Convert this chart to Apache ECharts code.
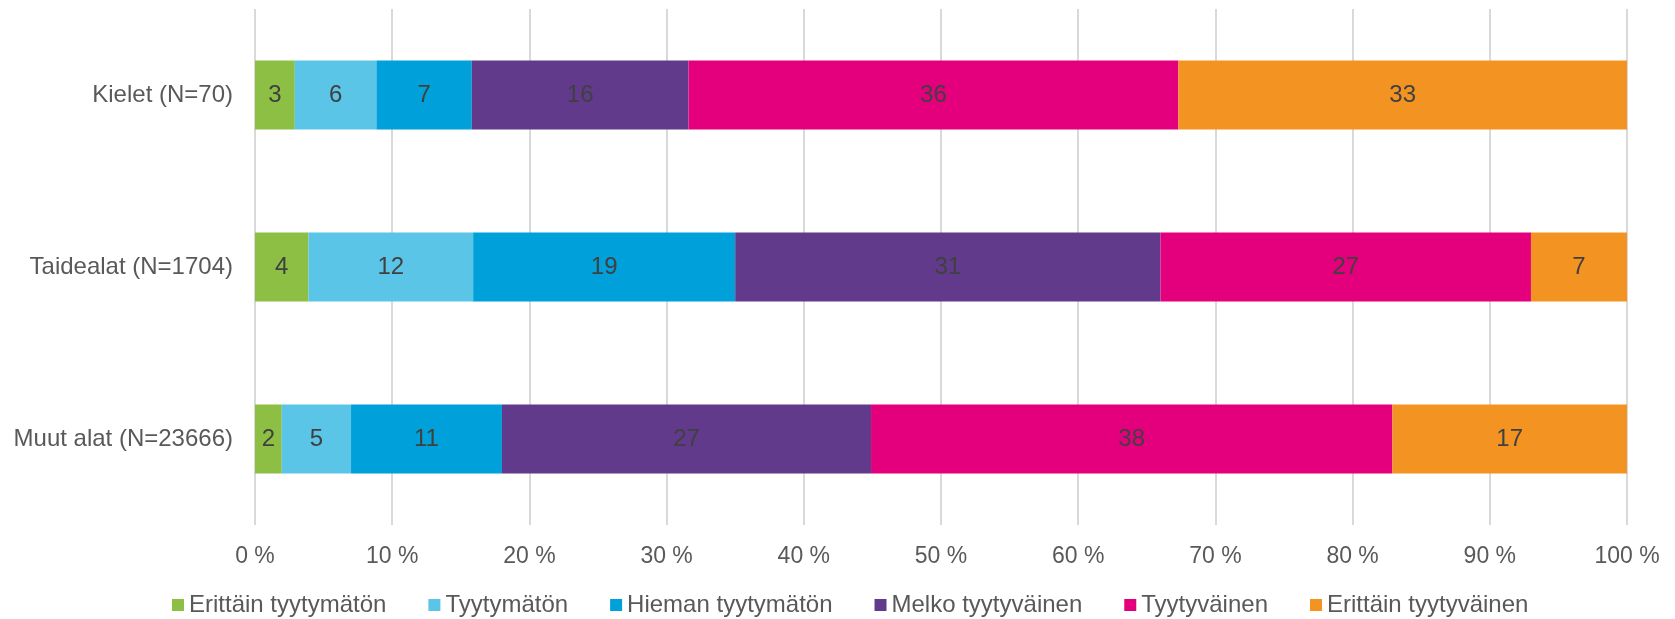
<!DOCTYPE html>
<html>
<head>
<meta charset="utf-8">
<script src="https://cdn.jsdelivr.net/npm/echarts@6/dist/echarts.min.js"></script>
<style>
html,body{margin:0;padding:0;background:#fff;}
#chart{width:1675px;height:619px;}
</style>
</head>
<body>
<div id="chart"></div>
<script>
var categories = ['Kielet (N=70)', 'Taidealat (N=1704)', 'Muut alat (N=23666)'];
var seriesNames = ['Erittäin tyytymätön', 'Tyytymätön', 'Hieman tyytymätön', 'Melko tyytyväinen', 'Tyytyväinen', 'Erittäin tyytyväinen'];
var erittainTyytymaton = [2.9, 3.9, 1.95];
var tyytymaton = [5.95, 12.0, 5.05];
var hiemanTyytymaton = [6.95, 19.1, 11.0];
var melkoTyytyvainen = [15.8, 31.0, 26.9];
var tyytyvainen = [35.7, 27.0, 38.0];
var erittainTyytyvainen = [32.7, 7.0, 17.1];
var colors = ['#8CBF44', '#5BC5E8', '#00A0DA', '#613A8B', '#E4007C', '#F39422'];

var allValues = [erittainTyytymaton, tyytymaton, hiemanTyytymaton, melkoTyytyvainen, tyytyvainen, erittainTyytyvainen];
var FONT = '"Liberation Sans", Arial, sans-serif';

var series = seriesNames.map(function (name, i) {
  return {
    name: name,
    type: 'bar',
    stack: 'total',
    barWidth: '40%',
    itemStyle: { color: colors[i] },
    label: {
      show: true,
      position: 'inside',
      color: '#404040',
      fontFamily: FONT,
      fontSize: 24,
      formatter: function (p) { return Math.round(p.value); }
    },
    emphasis: { disabled: true },
    data: allValues[i]
  };
});

var chart = echarts.init(document.getElementById('chart'), null, { renderer: 'canvas' });
chart.setOption({
  animation: false,
  backgroundColor: '#ffffff',
  color: colors,
  grid: { left: 255, right: 48, top: 9, bottom: 94 },
  legend: {
    left: 167,
    top: 588,
    padding: 5,
    itemWidth: 12,
    itemHeight: 12,
    itemGap: 42,
    icon: 'rect',
    textStyle: { color: '#595959', fontFamily: FONT, fontSize: 24, lineHeight: 24 },
    data: seriesNames
  },
  xAxis: {
    type: 'value',
    min: 0,
    max: 100,
    interval: 10,
    axisLine: { show: false },
    axisTick: { show: false },
    splitLine: { show: true, lineStyle: { color: '#D9D9D9', width: 2 } },
    axisLabel: {
      color: '#595959',
      fontFamily: FONT,
      fontSize: 23,
      margin: 20,
      formatter: '{value} %'
    }
  },
  yAxis: {
    type: 'category',
    inverse: true,
    data: categories,
    axisLine: { show: false },
    axisTick: { show: false },
    axisLabel: { color: '#595959', fontFamily: FONT, fontSize: 24, margin: 22 }
  },
  series: series
});
</script>
</body>
</html>
